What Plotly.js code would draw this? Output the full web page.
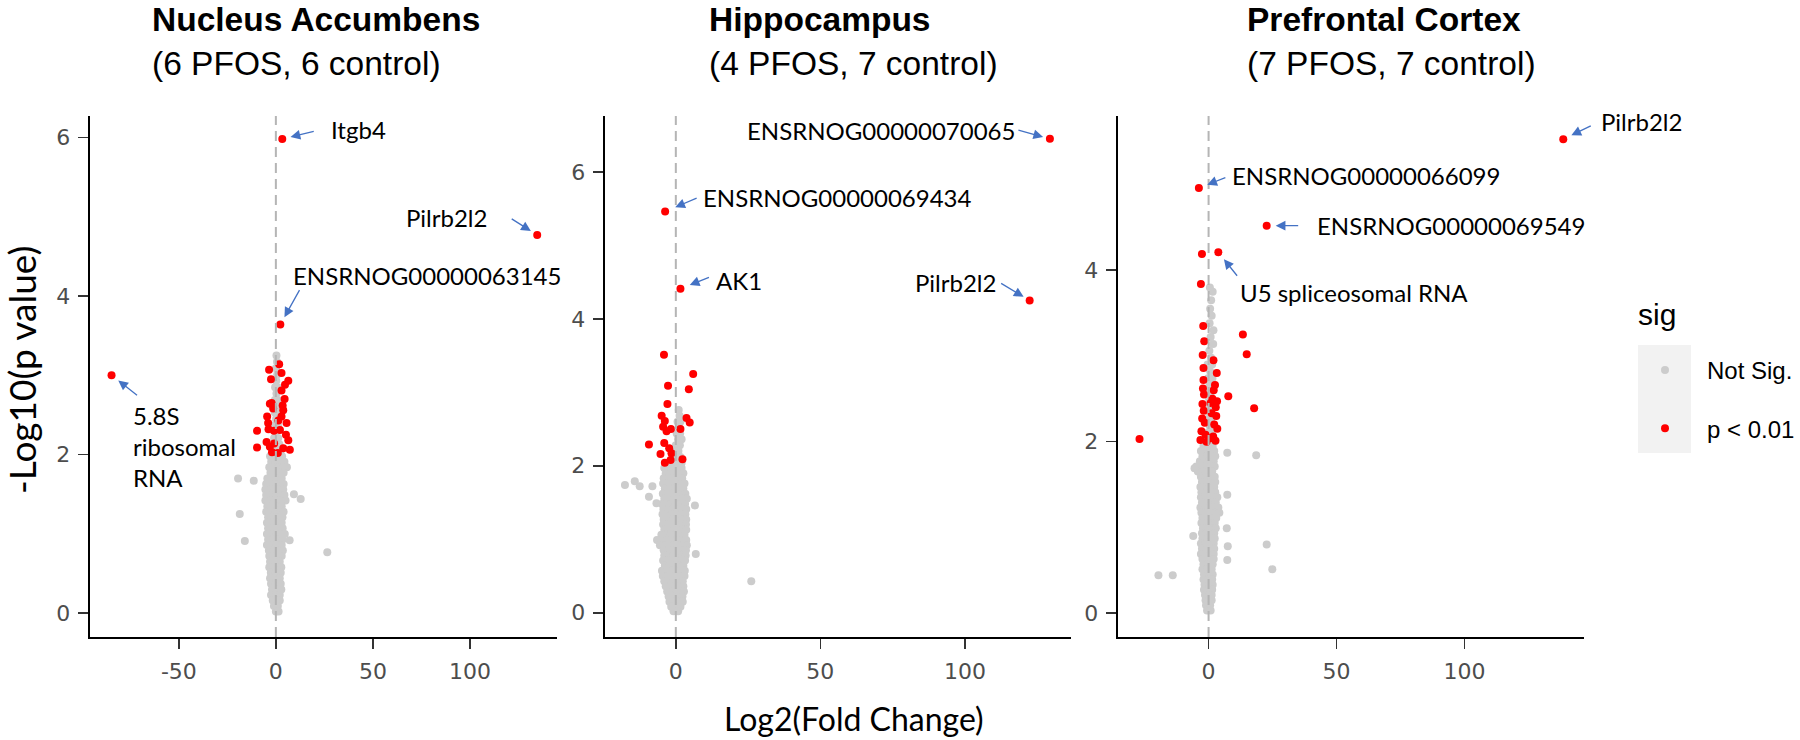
<!DOCTYPE html>
<html><head><meta charset="utf-8">
<script src="https://cdn.plot.ly/plotly-3.0.1.min.js"></script>
<style>html,body{margin:0;padding:0;background:#fff}</style>
</head><body><div id="chart" style="width:1800px;height:740px"></div>
<script>
// ---------------- DATA ----------------
const panelNames = ['Nucleus Accumbens', 'Hippocampus', 'Prefrontal Cortex'];
const panelSamples = ['(6 PFOS, 6 control)', '(4 PFOS, 7 control)', '(7 PFOS, 7 control)'];
const legendTitle = 'sig';
const legendNames = ['Not Sig.', 'p < 0.01'];
const xAxisTitle = 'Log2(Fold Change)';
const yAxisTitle = '-Log10(p value)';

const naXTicks = [-50, 0, 50, 100];
const hpXTicks = [0, 50, 100];
const pfcXTicks = [0, 50, 100];
const naYTicks = [0, 2, 4, 6];
const hpYTicks = [0, 2, 4, 6];
const pfcYTicks = [0, 2, 4];

// Not significant genes, rows: [-log10 p, log2FC, log2FC, ...]
const naGrayRows = [
  [3.25, 0.3], [3.17, 0.6], [3.09, 0.0], [3.01, 0.7], [2.93, 0.2], [2.85, -0.4, 0.9],
  [2.77, 0.3], [2.69, -0.5, 1.0], [2.61, 0.2], [2.53, -0.6, 1.0], [2.45, 0.1],
  [2.37, -0.7, 1.1], [2.29, 0.2], [2.21, -0.9, 1.2], [2.13, 0.0, 1.8],
  [2.05, -1.8, 0.4, 2.4], [1.98, -3.0, -0.8, 1.2, 3.2], [1.91, -2.4, 0.0, 2.4, 4.4],
  [1.84, -3.4, -1.0, 1.5, 3.6, 5.7], [1.77, -2.8, -0.4, 2.0, 4.0], [1.70, -4.4, -2.0, 0.5, 3.0],
  [1.63, -5.0, -2.6, -0.1, 2.4, 4.0], [1.56, -5.4, -3.0, -0.5, 2.0, 3.8],
  [1.49, -5.0, -2.5, 0.0, 2.5, 4.4], [1.42, -5.4, -3.0, -0.5, 2.0, 5.0],
  [1.35, -4.4, -2.0, 0.5, 3.0], [1.28, -5.0, -2.5, 0.0, 2.5, 4.0], [1.21, -4.0, -1.5, 1.0, 3.4],
  [1.14, -4.6, -2.0, 0.5, 3.0], [1.07, -4.0, -1.5, 1.0, 3.5], [1.00, -4.6, -2.0, 0.5, 3.0, 4.6],
  [0.93, -4.0, -1.5, 1.0, 3.5], [0.86, -4.6, -2.0, 0.5, 3.0], [0.79, -3.6, -1.0, 1.5, 3.6],
  [0.72, -3.4, -1.0, 1.5, 3.0], [0.65, -3.0, -0.5, 2.0], [0.58, -3.4, -1.0, 1.5, 2.8],
  [0.51, -2.6, 0.0, 2.5], [0.44, -3.0, -0.5, 2.0], [0.37, -2.5, 0.0, 2.5], [0.30, -2.0, 0.5, 2.8],
  [0.23, -2.5, 0.0, 2.0], [0.16, -1.6, 0.5, 2.0], [0.09, -1.0, 1.0], [0.02, 0.0, 1.4],
  [1.70, -19.5], [1.67, -11.4], [1.50, 9.3], [1.44, 12.8], [1.25, -18.6], [0.91, -16.0],
  [0.77, 26.5], [0.92, 7.1]
];
const hpGrayRows = [
  [2.76, 1.0], [2.68, 1.3], [2.60, 0.6, 1.6], [2.52, 1.0], [2.44, 0.3, 1.5], [2.36, 0.8, 2.0],
  [2.28, 0.0, 1.4], [2.20, -0.6, 0.9], [2.12, 0.2, 1.6], [2.04, -1.2, 0.5, 2.0],
  [1.97, -4.0, -2.4, -0.8, 0.8, 2.0], [1.90, -3.5, -1.9, -0.3, 1.3, 2.6],
  [1.83, -4.2, -2.6, -1.0, 0.6, 2.2], [1.76, -4.4, -2.8, -1.2, 0.4, 2.0, 3.0],
  [1.69, -3.8, -2.2, -0.6, 1.0, 2.6], [1.62, -4.5, -2.9, -1.3, 0.3, 1.9, 3.3],
  [1.55, -4.0, -2.4, -0.8, 0.8, 2.4, 3.8], [1.48, -4.8, -3.2, -1.6, 0.0, 1.6, 3.2],
  [1.41, -4.3, -2.7, -1.1, 0.5, 2.1, 3.6], [1.34, -4.6, -3.0, -1.4, 0.2, 1.8, 3.3],
  [1.27, -4.2, -2.6, -1.0, 0.6, 2.2, 3.6], [1.20, -4.4, -2.8, -1.2, 0.4, 2.0, 3.5],
  [1.13, -4.0, -2.4, -0.8, 0.8, 2.4, 3.6], [1.06, -5.0, -3.4, -1.8, -0.2, 1.4, 3.0],
  [0.99, -6.5, -4.6, -3.0, -1.4, 0.2, 1.8, 3.6], [0.92, -5.5, -3.8, -2.2, -0.6, 1.0, 2.6, 3.8],
  [0.85, -4.2, -2.6, -1.0, 0.6, 2.2, 3.5], [0.78, -4.0, -2.4, -0.8, 0.8, 2.4, 3.4],
  [0.71, -4.4, -2.8, -1.2, 0.4, 2.0, 3.2], [0.64, -3.8, -2.2, -0.6, 1.0, 2.6],
  [0.57, -4.8, -3.2, -1.6, 0.0, 1.6, 3.1], [0.50, -4.5, -2.9, -1.3, 0.3, 1.9, 3.0],
  [0.43, -4.0, -2.4, -0.8, 0.8, 2.4], [0.36, -3.5, -1.9, -0.3, 1.3, 2.6],
  [0.29, -3.0, -1.4, 0.2, 1.8, 2.8], [0.22, -2.5, -0.9, 0.7, 2.3], [0.15, -2.2, -0.6, 1.0, 2.4],
  [0.08, -1.6, 0.0, 1.6], [0.02, -0.8, 0.8],
  [1.74, -17.6], [1.79, -14.2], [1.72, -12.5], [1.72, -8.1], [1.58, -9.3], [1.49, -6.7],
  [1.46, 6.6], [0.80, 6.9], [0.43, 26.1]
];
const pfcGrayRows = [
  [3.80, 0.5], [3.75, 1.6], [3.65, 1.0], [3.55, 0.6], [3.47, 1.2], [3.38, 0.4], [3.30, 1.9],
  [3.22, 0.8], [3.14, 1.8], [3.06, 0.3], [2.98, 1.0], [2.90, -0.4, 1.4], [2.82, 0.6],
  [2.74, -0.2, 1.5], [2.66, 0.4], [2.58, -0.5, 1.0], [2.50, 0.2], [2.42, -0.6, 1.2],
  [2.34, 0.3], [2.26, -0.4, 1.0], [2.18, 0.5], [2.10, -0.6, 1.2], [2.02, 0.2],
  [1.95, -2.0, -0.2, 1.6], [1.89, -3.0, -1.2, 0.6, 2.2], [1.83, -2.4, -0.6, 1.2, 2.6],
  [1.77, -3.4, -1.6, 0.2, 2.0], [1.71, -4.8, -2.8, -1.0, 0.8, 2.4], [1.65, -4.2, -2.2, -0.4, 1.4],
  [1.59, -3.0, -1.2, 0.6, 2.4], [1.53, -2.6, -0.8, 1.0, 2.6], [1.47, -3.2, -1.4, 0.4, 2.2],
  [1.41, -2.8, -1.0, 0.8, 2.6], [1.35, -3.0, -1.2, 0.6, 2.4, 3.4], [1.29, -2.6, -0.8, 1.0, 2.8],
  [1.23, -3.2, -1.4, 0.4, 2.2, 3.8], [1.17, -2.8, -1.0, 0.8, 2.6, 4.2], [1.11, -2.4, -0.6, 1.2, 3.0],
  [1.05, -2.8, -1.0, 0.8, 2.4], [0.99, -2.2, -0.4, 1.4, 2.8], [0.93, -2.6, -0.8, 1.0, 2.2],
  [0.87, -2.4, -0.6, 1.2, 2.4], [0.81, -3.0, -1.2, 0.6, 2.0], [0.75, -2.6, -0.8, 1.0, 2.2],
  [0.69, -3.0, -1.2, 0.6, 2.0], [0.63, -2.4, -0.6, 1.2, 2.0], [0.57, -2.0, -0.2, 1.6],
  [0.51, -2.4, -0.6, 1.2], [0.45, -1.8, 0.0, 1.6], [0.39, -2.0, -0.2, 1.4], [0.33, -1.6, 0.2, 1.6],
  [0.27, -1.8, 0.0, 1.4], [0.21, -1.4, 0.4, 1.2], [0.15, -1.2, 0.2, 1.2], [0.09, -1.0, 0.6],
  [0.03, -0.6, 0.8],
  [1.87, 7.3], [1.84, 18.6], [1.69, -5.5], [1.38, 7.3], [0.99, 7.1], [0.90, -6.0], [0.78, 7.5],
  [0.80, 22.7], [0.62, 7.3], [0.51, 24.9], [0.44, -19.6], [0.44, -14.0]
];

// Significant genes (p < 0.01), unlabeled
const naSigX = [-3.5, 1.7, 2.9, 6.4, 4.7, 2.9, -3.1, -1.4, 3.8, -4.5, 2.9, 1.3, -9.7, -3.8, 2.1, 5.2,
  -4.8, -9.7, -3.1, 6.4, 7.2, 3.8, -0.9, -2.2, 4.5, -2.5, 3.5, -1.0, 1.0, -2.0, 5.5, -4.0];
const naSigY = [3.07, 3.14, 3.03, 2.93, 2.88, 2.81, 2.64, 2.58, 2.56, 2.48, 2.48, 2.43, 2.30, 2.32, 2.31, 2.25,
  2.16, 2.09, 2.10, 2.18, 2.06, 2.08, 2.14, 2.65, 2.70, 2.95, 2.62, 2.30, 2.02, 2.03, 2.40, 2.40];
const hpSigX = [-4.1, 6.0, -2.7, 4.5, -2.9, -4.9, -3.8, 3.7, 4.8, -4.4, -1.7, 1.6, -3.2, -9.3, -4.0,
  -2.3, -1.5, -5.3, -3.8, -1.8, 2.3];
const hpSigY = [3.51, 3.25, 3.09, 3.04, 2.84, 2.68, 2.61, 2.65, 2.59, 2.53, 2.50, 2.50, 2.47, 2.29, 2.31,
  2.24, 2.17, 2.16, 2.04, 2.08, 2.09];
const pfcSigX = [-2.6, -3.0, -2.1, 13.4, -1.7, 14.9, -2.3, 1.9, 3.2, -2.0, 7.7, 17.8, -27.0, -2.2, 2.5,
  -1.8, 1.5, 3.3, -2.4, 2.8, -1.9, 1.2, 3.0, -2.5, -1.5, 2.2, 3.4, -2.8, -1.2, 1.8, -3.2, 2.7, 0.6,
  -0.8, -2.0, 2.0, 0.8];
const pfcSigY = [4.19, 3.84, 3.35, 3.25, 3.17, 3.02, 3.01, 2.95, 2.80, 2.72, 2.53, 2.39, 2.03, 2.62, 2.66,
  2.55, 2.50, 2.47, 2.44, 2.40, 2.36, 2.33, 2.30, 2.27, 2.22, 2.20, 2.15, 2.12, 2.08, 2.06, 2.02, 2.01, 2.04,
  2.00, 2.86, 2.60, 2.45];

// Labeled significant genes
const naGenes = ['Itgb4', 'Pilrb2l2', 'ENSRNOG00000063145', '5.8S<br>ribosomal<br>RNA'];
const naGeneX = [3.3, 134.7, 2.3, -84.7];
const naGeneY = [5.98, 4.77, 3.64, 3.00];
const hpGenes = ['ENSRNOG00000070065', 'ENSRNOG00000069434', 'AK1', 'Pilrb2l2'];
const hpGeneX = [129.4, -3.7, 1.6, 122.4];
const hpGeneY = [6.45, 5.46, 4.41, 4.25];
const pfcGenes = ['Pilrb2l2', 'ENSRNOG00000066099', 'ENSRNOG00000069549', 'U5 spliceosomal RNA'];
const pfcGeneX = [138.6, -3.8, 22.7, 3.8];
const pfcGeneY = [5.53, 4.96, 4.52, 4.21];

// ---------------- LAYOUT / STYLE ----------------
const W = 1800, H = 740;
const px = v => v / W, py = v => 1 - v / H;
const panels = [
  {name: panelNames[0], sub: panelSamples[0], gray: naGrayRows, sx: naSigX, sy: naSigY,
   genes: naGenes, gx: naGeneX, gy: naGeneY, xt: naXTicks, yt: naYTicks,
   dom: [90, 557], xr: [-95.8, 144.9], yr: [-0.30, 6.27], titleX: 150,
   lab: [{ax: 33, ay: -8, sd: 8.5, tx: 47, ty: 9, an: 'left'},
         {ax: -27, ay: -17, sd: 7.5, tx: -48, ty: 17, an: 'right'},
         {ax: 20, ay: -36, sd: 8.5, tx: 11, ty: 49, an: 'left'},
         {ax: 27, ay: 21, sd: 8.5, tx: 19, ty: -71, an: 'left'}]},
  {name: panelNames[1], sub: panelSamples[1], gray: hpGrayRows, sx: hpSigX, sy: hpSigY,
   genes: hpGenes, gx: hpGeneX, gy: hpGeneY, xt: hpXTicks, yt: hpYTicks,
   dom: [605, 1071], xr: [-24.5, 136.7], yr: [-0.33, 6.76], titleX: 707,
   lab: [{ax: -33, ay: -9, sd: 7, tx: -33, ty: 8, an: 'right'},
         {ax: 33, ay: -14, sd: 11, tx: 36, ty: 14, an: 'left'},
         {ax: 30, ay: -12, sd: 10, tx: 34, ty: 8, an: 'left'},
         {ax: -30, ay: -18, sd: 7, tx: -32, ty: 18, an: 'right'}]},
  {name: panelNames[2], sub: panelSamples[2], gray: pfcGrayRows, sx: pfcSigX, sy: pfcSigY,
   genes: pfcGenes, gx: pfcGeneX, gy: pfcGeneY, xt: pfcXTicks, yt: pfcYTicks,
   dom: [1118, 1584], xr: [-35.4, 146.7], yr: [-0.28, 5.80], titleX: 1245,
   lab: [{ax: 29, ay: -14, sd: 9, tx: 36, ty: 18, an: 'left'},
         {ax: 28, ay: -11, sd: 9, tx: 31, ty: 12, an: 'left'},
         {ax: 33, ay: 0, sd: 9, tx: 48, ty: 0, an: 'left'},
         {ax: 20, ay: 25, sd: 9, tx: 20, ty: -40, an: 'left'}]}
];
const yDom = [py(637), py(116)];
const GRAY = '#CCCCCC', RED = '#FF0000', BLUE = '#4472C4';
const SANS = '"Liberation Sans", Arial, Helvetica, sans-serif';
const tickFont = {family: '"DejaVu Sans", "Liberation Sans", sans-serif', size: 22, color: '#4D4D4D'};
const labelFont = {family: 'Lato, "Open Sans", sans-serif', size: 24, color: '#000000'};

const traces = [], annotations = [], shapes = [];
const layout = {
  width: W, height: H, margin: {l: 0, r: 0, t: 0, b: 0},
  paper_bgcolor: '#ffffff', plot_bgcolor: '#ffffff',
  showlegend: true,
  legend: {x: px(1623), xanchor: 'left', y: py(348), yanchor: 'top',
           bgcolor: 'rgba(0,0,0,0)', itemwidth: 74, traceorder: 'grouped', tracegroupgap: 24,
           font: {family: SANS, size: 24, color: '#000'}},
  annotations, shapes
};

panels.forEach((p, i) => {
  const k = i === 0 ? '' : String(i + 1);
  const xa = 'x' + k, ya = 'y' + k;
  const gx = [], gy = [];
  p.gray.forEach(r => { for (let j = 1; j < r.length; j++) { gx.push(r[j]); gy.push(r[0]); } });
  traces.push({type: 'scatter', mode: 'markers', x: gx, y: gy, xaxis: xa, yaxis: ya,
    name: legendNames[0], legendgroup: 'ns', showlegend: i === 0, hoverinfo: 'skip',
    marker: {color: GRAY, size: 8, line: {width: 0}}});
  traces.push({type: 'scatter', mode: 'markers', x: p.sx.concat(p.gx), y: p.sy.concat(p.gy),
    xaxis: xa, yaxis: ya, name: legendNames[1], legendgroup: 'sig', showlegend: i === 0,
    hoverinfo: 'skip', marker: {color: RED, size: 8, line: {width: 0}}});

  const common = {ticks: 'outside', ticklen: 10, tickwidth: 1.6, tickcolor: '#333333',
    showline: true, linecolor: '#000', linewidth: 2.4, showgrid: false, zeroline: false,
    tickfont: tickFont, fixedrange: true};
  layout['xaxis' + k] = Object.assign({domain: [px(p.dom[0]), px(p.dom[1])], range: p.xr, anchor: ya,
    tickvals: p.xt, ticktext: p.xt.map(String), ticklabelstandoff: 3}, common);
  layout['yaxis' + k] = Object.assign({domain: yDom, range: p.yr, anchor: xa,
    tickvals: p.yt, ticktext: p.yt.map(String), ticklabelstandoff: 3}, common);

  shapes.push({type: 'line', xref: xa, yref: ya + ' domain', x0: 0, x1: 0, y0: 0, y1: 1,
    layer: 'above', line: {color: '#B5B5B5', width: 2, dash: '10px,6px'}});

  annotations.push({xref: 'paper', yref: 'paper', x: px(p.titleX), y: py(42),
    xanchor: 'left', yanchor: 'middle', align: 'left', showarrow: false,
    text: '<b>' + p.name + '</b><br>' + p.sub,
    font: {family: SANS, size: 33.5, color: '#000'}});

  p.genes.forEach((g, j) => {
    const L = p.lab[j];
    annotations.push({xref: xa, yref: ya, x: p.gx[j], y: p.gy[j], text: '', showarrow: true,
      ax: L.ax, ay: L.ay, standoff: L.sd, arrowhead: 2, arrowsize: 1.5, arrowwidth: 1.3,
      arrowcolor: BLUE});
    annotations.push({xref: xa, yref: ya, x: p.gx[j], y: p.gy[j], text: g, showarrow: false,
      xanchor: L.an, yanchor: 'middle', align: 'left', xshift: L.tx, yshift: L.ty, font: labelFont});
  });
});

// axis titles
annotations.push({xref: 'paper', yref: 'paper', x: px(854), y: py(718), xanchor: 'center', yanchor: 'middle',
  showarrow: false, text: xAxisTitle, font: {family: 'Lato, sans-serif', size: 32, color: '#000'}});
annotations.push({xref: 'paper', yref: 'paper', x: px(21), y: py(370), xanchor: 'center', yanchor: 'middle',
  showarrow: false, textangle: -90, text: yAxisTitle, font: {family: 'Lato, sans-serif', size: 37, color: '#000'}});
// legend title
annotations.push({xref: 'paper', yref: 'paper', x: px(1636), y: py(314), xanchor: 'left', yanchor: 'middle',
  showarrow: false, text: legendTitle, font: {family: SANS, size: 30, color: '#000'}});

// legend key background
shapes.push({type: 'rect', xref: 'paper', yref: 'paper', x0: px(1638), x1: px(1691), y0: py(453), y1: py(345),
  fillcolor: '#F2F2F2', line: {width: 0}, layer: 'below'});

Plotly.newPlot('chart', traces, layout, {staticPlot: true, displayModeBar: false});
</script>
</body></html>
